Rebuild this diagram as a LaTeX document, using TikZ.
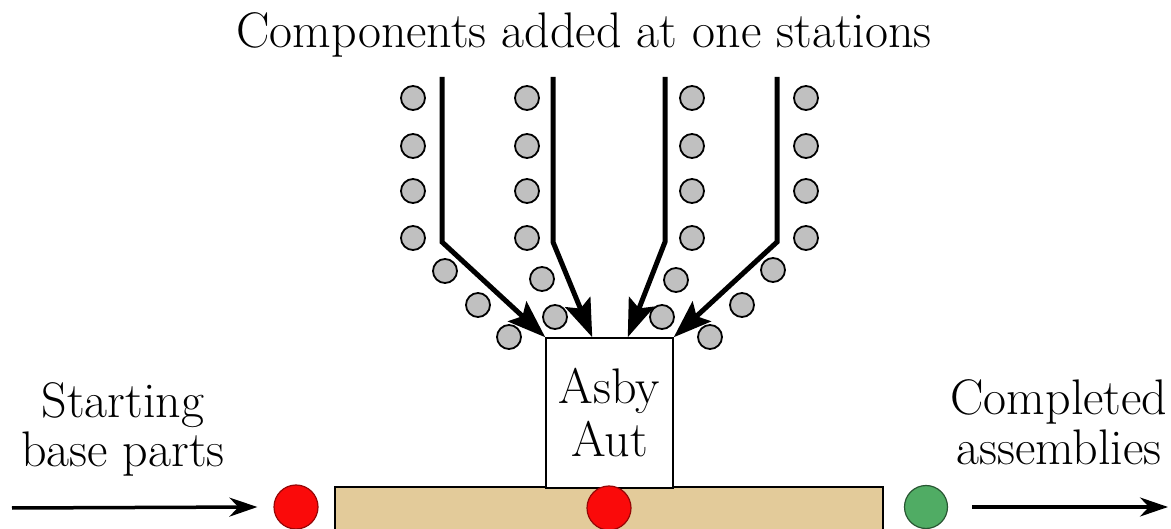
\documentclass[tikz,border=0pt]{standalone}
\usetikzlibrary{arrows.meta}

\definecolor{partgray}{RGB}{192,192,192}
\definecolor{belttan}{RGB}{227,203,154}
\definecolor{partred}{RGB}{250,10,10}
\definecolor{partgreen}{RGB}{80,172,100}

\begin{document}
\begin{tikzpicture}[x=1pt, y=-1pt]
	\tikzstyle{every node}=[inner sep=0pt, align=center, font=\fontsize{50}{52}\selectfont]
	\tikzstyle{part}=[circle, draw, line width=1.8pt, fill=partgray, minimum size=24pt]
	\tikzstyle{base}=[circle, draw=partred!60!black, line width=1.2pt, fill=partred, minimum size=44pt]
	\tikzstyle{done}=[circle, draw=partgreen!50!black, line width=1.2pt, fill=partgreen, minimum size=43pt]
	\tikzstyle{feed}=[line width=5pt, -{Stealth[length=38pt, width=27pt, inset=7pt]}]
	\tikzstyle{flow}=[line width=3.5pt, -{Stealth[length=28pt, width=19pt, inset=9pt]}]
	\useasboundingbox (0,0) rectangle (1171,529);

	\node[anchor=base] (title) at (584,48) {Components added at one stations};

	% conveyor and workhead
	\node[draw, line width=1.5pt, fill=belttan, minimum width=548pt, minimum height=52pt] (belt) at (609,513) {};
	\node[draw, line width=1.5pt, fill=white, minimum width=127pt, minimum height=150pt,
	      font=\fontsize{50}{53}\selectfont] (station) at (609.5,413) {Asby\\Aut};

	% parts waiting in the four feeders
	\foreach \x in {413,527,692,806}
		\foreach \y in {98,146,191,238}
			\node[part] at (\x,\y) {};
	\foreach \x/\y in {445/271, 478/305, 509/337, 542/279, 555/317,
	                   676/280, 662/317, 773/270, 742/305, 710/337}
		\node[part] at (\x,\y) {};

	% feeder chutes
	\coordinate (c1) at (442,77);  \coordinate (b1) at (442,242);
	\coordinate (c2) at (553,77);  \coordinate (b2) at (553,242);
	\coordinate (c3) at (665,77);  \coordinate (b3) at (665,242);
	\coordinate (c4) at (777,77);  \coordinate (b4) at (777,242);
	\draw [feed] (c1) -- (b1) -- (station.north west);
	\draw [feed] (c2) -- (b2) -- ([xshift=47pt]station.north west);
	\draw [feed] (c3) -- (b3) -- ([xshift=-46pt]station.north east);
	\draw [feed] (c4) -- (b4) -- (station.north east);

	% parts on the line
	\node[base] (first) at (296,507) {};
	\node[base] (mid) at (609,508) {};
	\node[done] (last) at (926,507) {};

	\coordinate (src) at (12,508);
	\coordinate (out) at (1168,507);
	\draw [flow] (src) -- ([xshift=-16pt]first.west);
	\draw [flow] ([xshift=24pt]last.east) -- (out);

	\node[font=\fontsize{50}{49}\selectfont] (start) at (123,429) {Starting\\base parts};
	\node[font=\fontsize{50}{50}\selectfont] (end) at (1059,422) {Completed\\assemblies};
\end{tikzpicture}
\end{document}
